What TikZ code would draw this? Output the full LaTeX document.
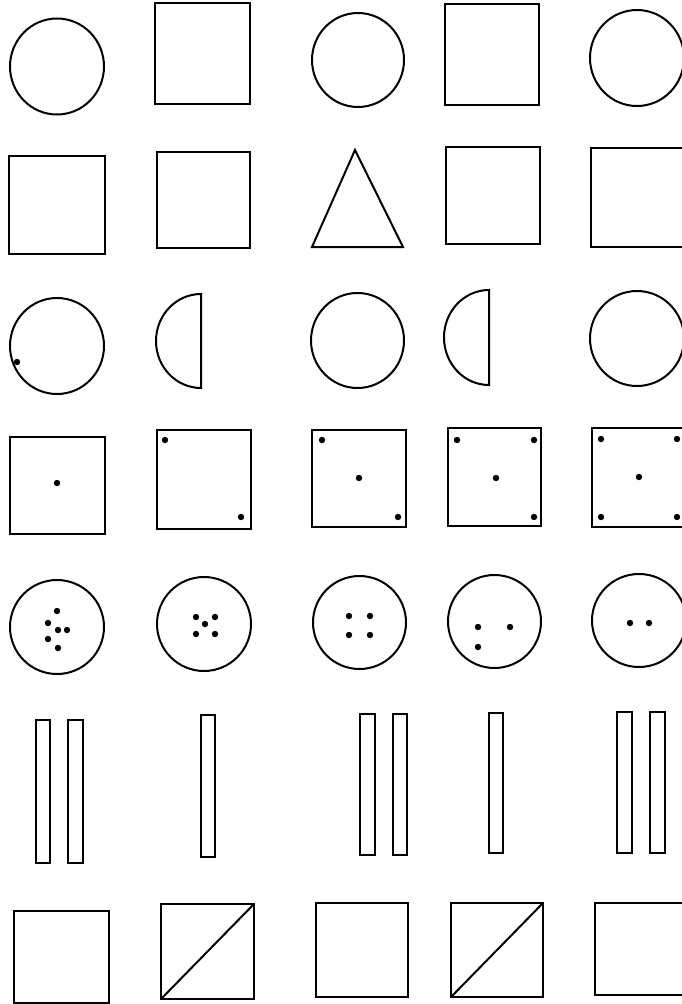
\documentclass[tikz,border=0pt]{standalone}
\usepackage{tikz}

\begin{document}
\begin{tikzpicture}[x=1pt, y=-1pt, line width=2pt,
        outline/.style={draw, line width=2pt},
        heavy/.style={draw, line width=2.4pt},
        dotmark/.style={fill=black}]
        % 画布
        \useasboundingbox (0,0) rectangle (682,1004);
        \clip (0,0) rectangle (682,1004);

        % 第一行
        \draw[outline] (57,66.5) ellipse [x radius=47, y radius=48];
        \draw[outline] (155,3) rectangle (250,104);
        \draw[outline] (358,60) ellipse [x radius=46, y radius=47];
        \draw[outline] (445,4) rectangle (539,105);
        \draw[outline] (637,58) ellipse [x radius=47, y radius=48];

        % 第二行
        \draw[heavy] (9,156) rectangle (105,254);
        \draw[outline] (157,152) rectangle (250,248);
        \draw[outline] (355,150) -- (403,247) -- (312,247) -- cycle;
        \draw[outline] (446,147) rectangle (540,244);
        \draw[heavy] (591,148) rectangle (692,247);

        % 第三行 - 圆和半圆
        \draw[outline] (57,346) ellipse [x radius=47, y radius=48];
        \fill[dotmark] (17,362) circle [radius=3.2];
        \draw[outline] (201,294) arc [start angle=270, end angle=90, x radius=45, y radius=47] -- cycle;
        \draw[outline] (357.5,340.5) ellipse [x radius=46.5, y radius=47.5];
        \draw[outline] (489,290) arc [start angle=270, end angle=90, x radius=45, y radius=47.5] -- cycle;
        \draw[outline] (637,338.5) ellipse [x radius=47, y radius=47.5];

        % 第四行 - 带点的方框
        \draw[heavy] (10,437) rectangle (105,534);
        \draw[heavy] (157,430) rectangle (251,529);
        \draw[heavy] (312,430) rectangle (406,527);
        \draw[heavy] (448,428) rectangle (541,526);
        \draw[heavy] (592,428) rectangle (692,527);
        \foreach \p in {(57,483), (165,440), (241,517), (322,440), (359,478), (398,517),
                (457,440), (534,440), (496,478), (534,517),
                (601,439), (677,439), (639,477), (601,517), (677,517)}
            \fill[dotmark] \p circle [radius=3.2];

        % 第五行 - 带点的圆
        \draw[outline] (57,627) ellipse [x radius=47, y radius=47];
        \draw[outline] (204,624) ellipse [x radius=47, y radius=47];
        \draw[outline] (359.5,622.5) ellipse [x radius=46.5, y radius=46.5];
        \draw[outline] (494.5,621.5) ellipse [x radius=46.5, y radius=46.5];
        \draw[outline] (639,620.5) ellipse [x radius=47, y radius=46.5];
        \foreach \p in {(57,611), (48,623), (58,630), (67,630), (48,639), (58,648),
                (196,617), (215,617), (205,624), (196,634), (215,634),
                (349,616), (370,616), (349,635), (370,635),
                (478,627), (510,627), (478,647),
                (630,623), (649,623)}
            \fill[dotmark] \p circle [radius=3.2];

        % 第六行 - 竖条
        \foreach \xa/\ya/\xb/\yb in {36/720/50/863, 68/720/83/863, 201/715/215/857,
                360/714/375/855, 393/714/407/855, 489/713/503/853,
                617/712/632/853, 650/712/665/853}
            \draw[outline] (\xa,\ya) rectangle (\xb,\yb);

        % 第七行 - 方框和对角线
        \draw[heavy] (14,911) rectangle (109,1003);
        \draw[heavy] (161,904) rectangle (254,999);
        \draw[outline] (161,999) -- (254,904);
        \draw[heavy] (316,903) rectangle (408,997);
        \draw[outline] (451,903) rectangle (543,997);
        \draw[outline] (451,997) -- (543,903);
        \draw[outline] (595,903) rectangle (692,995);
    \end{tikzpicture}
\end{document}
